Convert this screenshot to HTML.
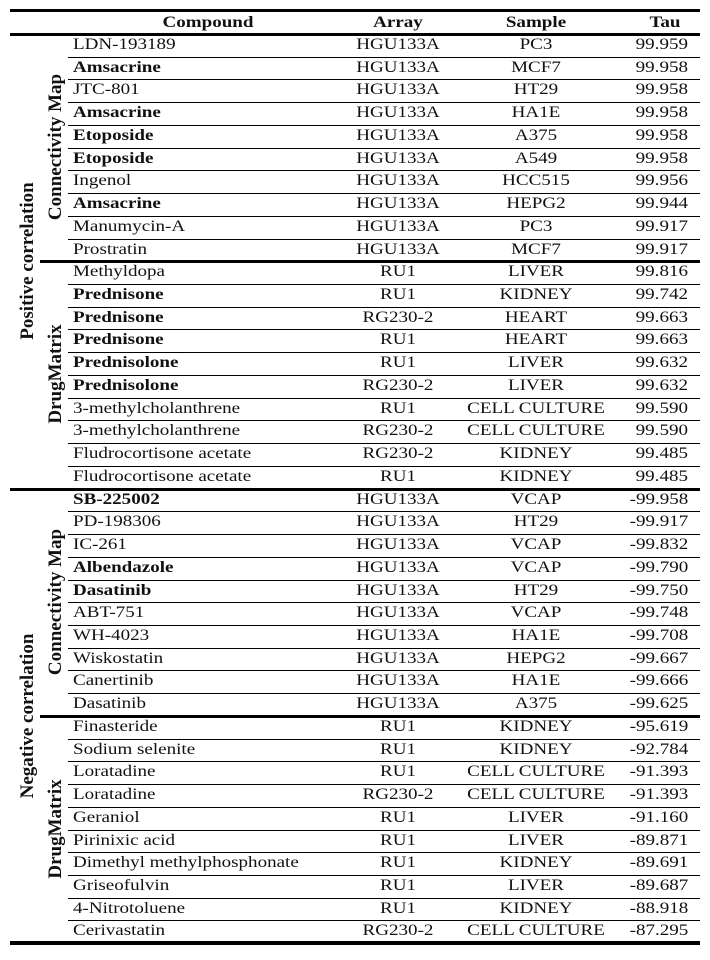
<!DOCTYPE html>
<html><head><meta charset="utf-8"><style>
html,body{margin:0;padding:0;background:#fff;}
body{width:710px;height:960px;position:relative;overflow:hidden;font-family:"Liberation Serif",serif;font-size:16px;color:#111;}
.l{position:absolute;background:#000;}
.t{position:absolute;white-space:nowrap;line-height:22px;transform:scaleX(1.19);}
.c{text-align:center;transform-origin:50% 50%;}
.lt{transform-origin:0 50%;}
.rt{transform-origin:100% 50%;}
.v{position:absolute;font-weight:bold;font-size:19px;white-space:nowrap;transform:translate(-50%,-50%) rotate(-90deg);line-height:20px;}
b{font-weight:bold;}
</style></head><body>
<div id="root"></div>
<script>
const rows=[
["LDN-193189",0,"HGU133A","PC3","99.959"],
["Amsacrine",1,"HGU133A","MCF7","99.958"],
["JTC-801",0,"HGU133A","HT29","99.958"],
["Amsacrine",1,"HGU133A","HA1E","99.958"],
["Etoposide",1,"HGU133A","A375","99.958"],
["Etoposide",1,"HGU133A","A549","99.958"],
["Ingenol",0,"HGU133A","HCC515","99.956"],
["Amsacrine",1,"HGU133A","HEPG2","99.944"],
["Manumycin-A",0,"HGU133A","PC3","99.917"],
["Prostratin",0,"HGU133A","MCF7","99.917"],
["Methyldopa",0,"RU1","LIVER","99.816"],
["Prednisone",1,"RU1","KIDNEY","99.742"],
["Prednisone",1,"RG230-2","HEART","99.663"],
["Prednisone",1,"RU1","HEART","99.663"],
["Prednisolone",1,"RU1","LIVER","99.632"],
["Prednisolone",1,"RG230-2","LIVER","99.632"],
["3-methylcholanthrene",0,"RU1","CELL CULTURE","99.590"],
["3-methylcholanthrene",0,"RG230-2","CELL CULTURE","99.590"],
["Fludrocortisone acetate",0,"RG230-2","KIDNEY","99.485"],
["Fludrocortisone acetate",0,"RU1","KIDNEY","99.485"],
["SB-225002",1,"HGU133A","VCAP","-99.958"],
["PD-198306",0,"HGU133A","HT29","-99.917"],
["IC-261",0,"HGU133A","VCAP","-99.832"],
["Albendazole",1,"HGU133A","VCAP","-99.790"],
["Dasatinib",1,"HGU133A","HT29","-99.750"],
["ABT-751",0,"HGU133A","VCAP","-99.748"],
["WH-4023",0,"HGU133A","HA1E","-99.708"],
["Wiskostatin",0,"HGU133A","HEPG2","-99.667"],
["Canertinib",0,"HGU133A","HA1E","-99.666"],
["Dasatinib",0,"HGU133A","A375","-99.625"],
["Finasteride",0,"RU1","KIDNEY","-95.619"],
["Sodium selenite",0,"RU1","KIDNEY","-92.784"],
["Loratadine",0,"RU1","CELL CULTURE","-91.393"],
["Loratadine",0,"RG230-2","CELL CULTURE","-91.393"],
["Geraniol",0,"RU1","LIVER","-91.160"],
["Pirinixic acid",0,"RU1","LIVER","-89.871"],
["Dimethyl methylphosphonate",0,"RU1","KIDNEY","-89.691"],
["Griseofulvin",0,"RU1","LIVER","-89.687"],
["4-Nitrotoluene",0,"RU1","KIDNEY","-88.918"],
["Cerivastatin",0,"RG230-2","CELL CULTURE","-87.295"]];
const top0=34,h=22.73;let s='';
s+='<div class="l" style="left:10px;top:9px;width:690px;height:3px"></div>';
s+='<div class="l" style="left:10px;top:33px;width:690px;height:3px"></div>';
s+='<div class="t c" style="left:128px;width:160px;top:12px;font-weight:bold">Compound</div>';
s+='<div class="t c" style="left:338px;width:120px;top:12px;font-weight:bold">Array</div>';
s+='<div class="t c" style="left:451px;width:170px;top:12px;font-weight:bold">Sample</div>';
s+='<div class="t c" style="left:630px;width:70px;top:12px;font-weight:bold">Tau</div>';
rows.forEach((r,i)=>{const y=top0+i*h;
s+=`<div class="t lt" style="left:73px;top:${y}px">${r[1]?'<b>'+r[0]+'</b>':r[0]}</div>`;
s+=`<div class="t c" style="left:338px;width:120px;top:${y}px">${r[2]}</div>`;
s+=`<div class="t c" style="left:451px;width:170px;top:${y}px">${r[3]}</div>`;
s+=`<div class="t rt" style="right:22px;top:${y}px">${r[4]}</div>`;
if(i<39){const ly=Math.round(top0+(i+1)*h);
if(i==19)s+=`<div class="l" style="left:10px;top:${ly-1}px;width:690px;height:3px"></div>`;
else if(i==9||i==29)s+=`<div class="l" style="left:40px;top:${ly-1}px;width:660px;height:3px"></div>`;
else s+=`<div class="l" style="left:68px;top:${ly}px;width:632px;height:1px"></div>`;}
});
s+='<div class="l" style="left:10px;top:941px;width:690px;height:4px"></div>';
const lab=(t,x,y)=>`<div class="v" style="left:${x}px;top:${y}px">${t}</div>`;
s+=lab('Positive correlation',28,261)+lab('Negative correlation',28,716);
s+=lab('Connectivity Map',56,147)+lab('DrugMatrix',56,374)+lab('Connectivity Map',56,602)+lab('DrugMatrix',56,829);
document.getElementById('root').innerHTML=s;
</script>
</body></html>
